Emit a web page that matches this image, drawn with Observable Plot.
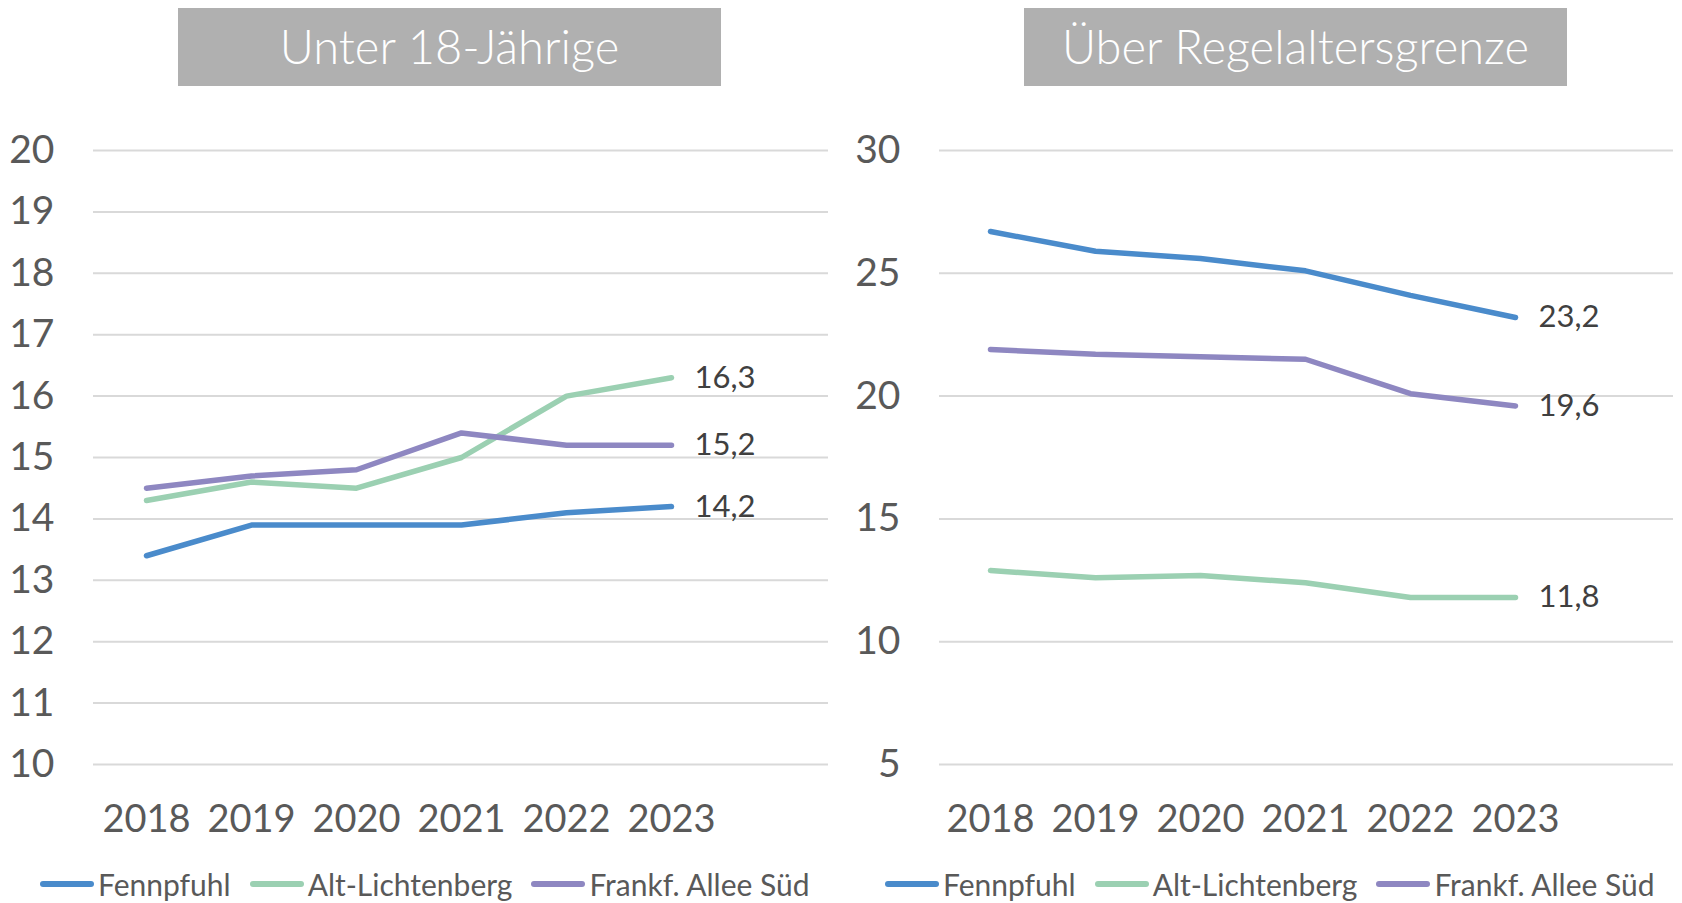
<!DOCTYPE html>
<html>
<head>
<meta charset="utf-8">
<script src="https://cdn.jsdelivr.net/npm/d3@7"></script>
<script src="https://cdn.jsdelivr.net/npm/@observablehq/plot@0.6"></script>
<style>
  html, body { margin: 0; padding: 0; background: #fff; }
  body { width: 1682px; height: 903px; position: relative; overflow: hidden; font-family: Lato, "Liberation Sans", sans-serif; }
  .panel { position: absolute; top: 0; width: 841px; height: 903px; }
  .title { position: absolute; top: 8px; width: 543px; height: 78px; background: #b0b0b0; color: #fff;
           font-size: 47px; font-weight: 300; line-height: 76px; text-align: center; white-space: nowrap; }
  .chart { position: absolute; top: 100px; left: 0; }
  .legend { position: absolute; top: 866px; display: flex; align-items: center; white-space: nowrap;
            font-size: 30px; color: #595959; }
  .legend .item { display: flex; align-items: center; margin-right: 19px; }
  .legend svg { margin-right: 4px; }
</style>
</head>
<body>
<div class="panel" id="p1" style="left:0"></div>
<div class="panel" id="p2" style="left:841px"></div>
<script>
const years = ["2018", "2019", "2020", "2021", "2022", "2023"];
const seriesNames = ["Fennpfuhl", "Alt-Lichtenberg", "Frankf. Allee Süd"];
const seriesColors = ["#4a8bcb", "#9bd0b2", "#8e87c1"];
const titles = ["Unter 18-Jährige", "Über Regelaltersgrenze"];

// Unter 18-Jährige (%)
const u18Fennpfuhl = [13.4, 13.9, 13.9, 13.9, 14.1, 14.2];
const u18AltLichtenberg = [14.3, 14.6, 14.5, 15.0, 16.0, 16.3];
const u18Frankf = [14.5, 14.7, 14.8, 15.4, 15.2, 15.2];

// Über Regelaltersgrenze (%)
const oldFennpfuhl = [26.7, 25.9, 25.6, 25.1, 24.1, 23.2];
const oldAltLichtenberg = [12.9, 12.6, 12.7, 12.4, 11.8, 11.8];
const oldFrankf = [21.9, 21.7, 21.6, 21.5, 20.1, 19.6];

const leftTicks = [10, 11, 12, 13, 14, 15, 16, 17, 18, 19, 20];
const rightTicks = [5, 10, 15, 20, 25, 30];

function toRows(arrays) {
  const rows = [];
  arrays.forEach((vals, si) => {
    vals.forEach((v, i) => rows.push({series: seriesNames[si], year: years[i], value: v}));
  });
  return rows;
}

function buildPanel(el, title, titleLeft, arrays, ticks, margins, legendLeft) {
  const t = document.createElement("div");
  t.className = "title";
  t.style.left = titleLeft + "px";
  t.textContent = title;
  el.appendChild(t);

  const data = toRows(arrays);
  const last = data.filter(d => d.year === years[years.length - 1]);
  const chart = Plot.plot({
    width: 841,
    height: 750,
    marginTop: 50,
    marginBottom: 86,
    marginLeft: margins.left,
    marginRight: margins.right,
    style: {fontFamily: 'Lato, "Liberation Sans", sans-serif', background: "transparent", overflow: "visible"},
    x: {type: "point", domain: years, padding: 0, insetLeft: margins.inset, insetRight: 157.5},
    y: {domain: [ticks[0], ticks[ticks.length - 1]]},
    color: {domain: seriesNames, range: seriesColors},
    marks: [
      Plot.ruleY(ticks, {stroke: "#d9d9d9", strokeWidth: 2}),
      Plot.axisY({ticks, tickSize: 0, tickPadding: 39, fontSize: 39, color: "#595959", label: null}),
      Plot.axisX({tickSize: 0, tickPadding: 41, fontSize: 38, color: "#595959", label: null}),
      Plot.line(data, {x: "year", y: "value", z: "series", stroke: "series", strokeWidth: 5.5,
                       strokeLinecap: "round", strokeLinejoin: "round"}),
      Plot.text(last, {x: "year", y: "value", text: d => d.value.toFixed(1).replace(".", ","),
                       dx: 23, textAnchor: "start", fontSize: 31, fill: "#404040"})
    ]
  });
  chart.classList.add("chart");
  el.appendChild(chart);

  const lg = document.createElement("div");
  lg.className = "legend";
  lg.style.left = legendLeft + "px";
  seriesNames.forEach((name, i) => {
    const item = document.createElement("div");
    item.className = "item";
    item.innerHTML = `<svg width="54" height="10"><line x1="3" y1="5" x2="51" y2="5" stroke="${seriesColors[i]}" stroke-width="6" stroke-linecap="round"/></svg><span>${name}</span>`;
    lg.appendChild(item);
  });
  el.appendChild(lg);
}

buildPanel(document.getElementById("p1"), titles[0], 178,
  [u18Fennpfuhl, u18AltLichtenberg, u18Frankf], leftTicks, {left: 93, right: 13, inset: 52.5}, 40);
buildPanel(document.getElementById("p2"), titles[1], 183,
  [oldFennpfuhl, oldAltLichtenberg, oldFrankf], rightTicks, {left: 98, right: 9, inset: 50}, 44);
</script>
</body>
</html>
